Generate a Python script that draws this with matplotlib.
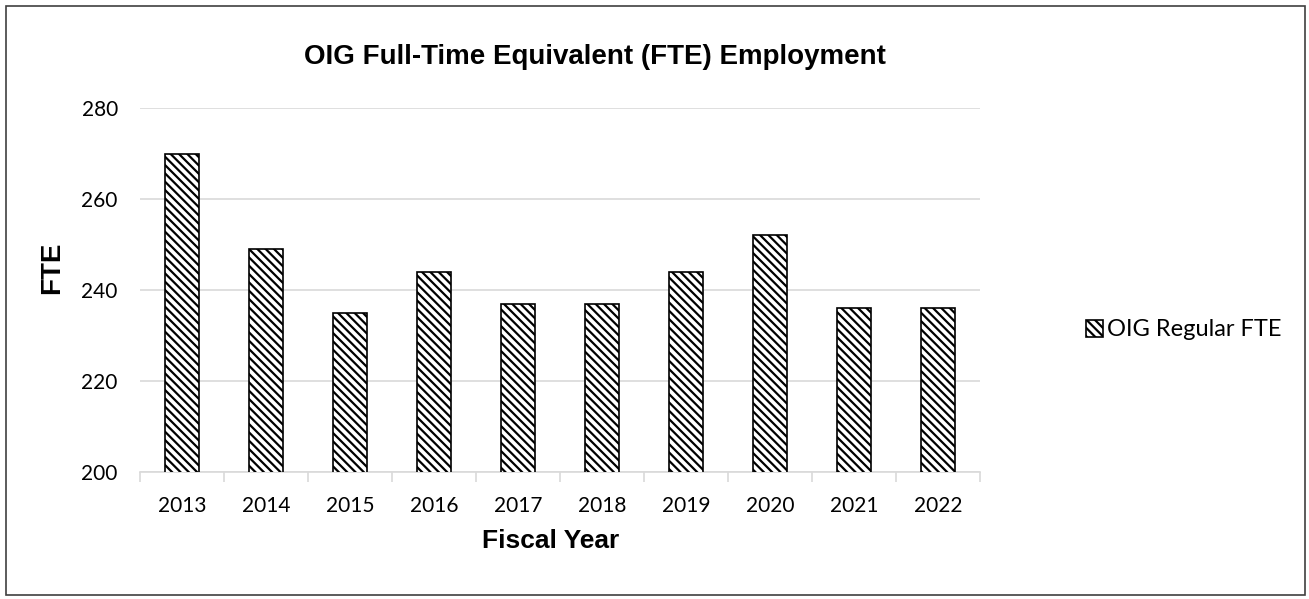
import numpy as np
import matplotlib.pyplot as plt
from matplotlib.patches import Rectangle

# data
years = ["2013", "2014", "2015", "2016", "2017", "2018", "2019", "2020", "2021", "2022"]
fte = [270, 249, 235, 244, 237, 237, 244, 252, 236, 236]
yticks = [200, 220, 240, 260, 280]

plt.rcParams['hatch.linewidth'] = 1.6

W, H = 1309, 599
fig = plt.figure(figsize=(W / 100, H / 100), dpi=100)
ax = fig.add_axes([140 / W, 1 - 472 / H, 840 / W, 364 / H])

x = np.arange(len(years))
ax.bar(x, fte, width=0.41, bottom=0, color="white", edgecolor="black",
       hatch="\\" * 4, linewidth=1.2, label="OIG Regular FTE", zorder=3)

ax.set_ylim(200, 280)
ax.set_xlim(-0.5, len(years) - 0.5)
ax.set_yticks(yticks)
ax.set_xticks(x)
ax.set_xticklabels(years)
ax.yaxis.grid(True, color="#d9d9d9", linewidth=1.2, zorder=0)

for s in ["top", "right", "left"]:
    ax.spines[s].set_visible(False)
ax.spines["bottom"].set_color("#d9d9d9")
ax.spines["bottom"].set_linewidth(1.2)

ax.tick_params(axis="y", length=0, labelsize=15, pad=16)
ax.tick_params(axis="x", length=0, labelsize=15, pad=17)
# category boundary ticks
ax.set_xticks(np.arange(len(years) + 1) - 0.5, minor=True)
ax.tick_params(axis="x", which="minor", length=7, color="#d9d9d9", width=1.2)

for lab in ax.get_xticklabels() + ax.get_yticklabels():
    lab.set_family("Lato")

fig.text(595 / W, 1 - 57 / H, "OIG Full-Time Equivalent (FTE) Employment", fontsize=20,
         fontweight="bold", family="Liberation Sans", ha="center", va="center")
fig.text(551 / W, 1 - 541 / H, "Fiscal Year", fontsize=19, fontweight="bold",
         family="Liberation Sans", ha="center", va="center")
fig.text(52 / W, 1 - 268 / H, "FTE", fontsize=20, fontweight="bold",
         family="Liberation Sans", ha="center", va="center", rotation=90)

handles, labels = ax.get_legend_handles_labels()
fig.legend(handles, labels, loc="center left", bbox_to_anchor=(1086 / W, 1 - 330 / H),
           frameon=False, prop={"family": "Lato", "size": 17}, handlelength=0.7,
           handleheight=0.7, handletextpad=0.2, borderpad=0, borderaxespad=0)

# outer border
fig.patches.append(Rectangle((6 / W, 4 / H), 1299 / W, 589 / H, transform=fig.transFigure,
                             fill=False, edgecolor="#404040", linewidth=1.2))

fig.savefig("out.png", dpi=100)
